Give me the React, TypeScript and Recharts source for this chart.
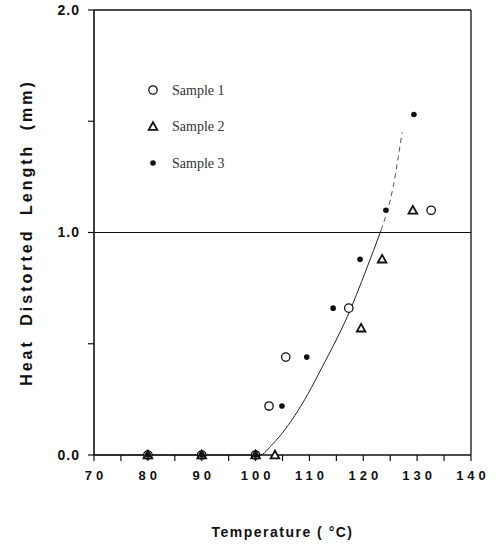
import {
  ComposedChart, Line, Scatter, XAxis, YAxis, ReferenceLine, Legend,
} from "recharts";

// measured points, (temperature °C, heat distorted length mm)
const sample1 = [
  { x: 80, y: 0 }, { x: 90, y: 0 }, { x: 100, y: 0 },
  { x: 102.5, y: 0.22 }, { x: 105.6, y: 0.44 }, { x: 117.3, y: 0.66 }, { x: 132.6, y: 1.1 },
];
const sample2 = [
  { x: 80, y: 0 }, { x: 90, y: 0 }, { x: 100, y: 0 }, { x: 103.6, y: 0 },
  { x: 119.6, y: 0.57 }, { x: 123.5, y: 0.88 }, { x: 129.2, y: 1.1 },
];
const sample3 = [
  { x: 80, y: 0 }, { x: 90, y: 0 }, { x: 100, y: 0 },
  { x: 104.9, y: 0.22 }, { x: 109.5, y: 0.44 }, { x: 114.4, y: 0.66 },
  { x: 119.4, y: 0.88 }, { x: 124.2, y: 1.1 }, { x: 129.4, y: 1.53 },
];

// hand-drawn fit curve
const fitSolid = [
  { x: 70, y: 0 }, { x: 100.8, y: 0 }, { x: 103.2, y: 0.05 }, { x: 107.9, y: 0.2 },
  { x: 112.9, y: 0.42 }, { x: 117, y: 0.62 }, { x: 120.5, y: 0.83 }, { x: 123.3, y: 1.01 },
];
const fitDashed = [
  { x: 123.3, y: 1.01 }, { x: 125.5, y: 1.2 }, { x: 127.2, y: 1.45 },
];

const xTicks = [70, 75, 80, 85, 90, 95, 100, 105, 110, 115, 120, 125, 130, 135, 140];
const yTicks = [0, 0.5, 1, 1.5, 2];
const yLabels: Record<string, string> = { "0": "0.0", "1": "1.0", "2": "2.0" };
const legendNames = ["Sample 1", "Sample 2", "Sample 3"];

const SANS = "'Liberation Sans', Arial, sans-serif";
const SERIF = "'Liberation Serif', 'Times New Roman', serif";

const OpenCircle = ({ cx, cy }: any) => (
  <circle cx={cx} cy={cy} r={4.2} fill="#fff" stroke="#111" strokeWidth={1.3} />
);
const Triangle = ({ cx, cy }: any) => (
  <path d={`M${cx},${cy - 4.3} L${cx + 4.3},${cy + 3.3} L${cx - 4.3},${cy + 3.3} Z`}
    fill="#fff" stroke="#111" strokeWidth={1.8} strokeLinejoin="miter" />
);
const Dot = ({ cx, cy }: any) => <circle cx={cx} cy={cy} r={2.8} fill="#111" />;

function XTick({ x, y, payload }: any) {
  if (payload.value % 10 !== 0) return null;
  return (
    <text x={x + 2} y={y} dy="0.71em" textAnchor="middle" fontFamily={SANS}
      fontWeight="bold" fontSize={13} letterSpacing={4} fill="#111">
      {payload.value}
    </text>
  );
}

function YTick({ x, y, payload }: any) {
  const label = yLabels[String(payload.value)];
  if (!label) return null;
  return (
    <text x={x} y={y} dy="0.355em" textAnchor="end" fontFamily={SANS}
      fontWeight="bold" fontSize={14} letterSpacing={1} fill="#111">
      {label}
    </text>
  );
}

function LegendBox() {
  const icons = [OpenCircle, Triangle, Dot];
  return (
    <svg width={110} height={100}>
      {legendNames.map((name, i) => {
        const Icon = icons[i];
        const cy = 15 + i * 36.5;
        return (
          <g key={name}>
            <Icon cx={13} cy={cy} />
            <text x={32} y={cy} dy="0.35em" fontFamily={SERIF} fontSize={14} fill="#333">{name}</text>
          </g>
        );
      })}
    </svg>
  );
}

export default function App() {
  return (
    <div style={{ position: "absolute", left: 0, top: 0, background: "#fff" }}>
      <ComposedChart width={499} height={545} margin={{ top: 10, right: 28, bottom: 60, left: 0 }}>
        <XAxis dataKey="x" type="number" domain={[70, 140]} ticks={xTicks} interval={0}
          height={30} tickSize={6} tickMargin={10} tick={<XTick />}
          axisLine={{ stroke: "#111", strokeWidth: 1.6 }} tickLine={{ stroke: "#111", strokeWidth: 1.2 }}
          label={{
            content: ({ viewBox }: any) => (
              <text x={viewBox.x + viewBox.width / 2} y={viewBox.y + 77} textAnchor="middle"
                dominantBaseline="central" fontFamily={SANS} fontWeight="bold" fontSize={14}
                letterSpacing={1.5} fill="#111">
                Temperature  ( °C)
              </text>
            ),
          }}
        />
        <YAxis dataKey="y" type="number" domain={[0, 2]} ticks={yTicks} interval={0}
          width={94} tickSize={6} tickMargin={8} tick={<YTick />}
          axisLine={{ stroke: "#111", strokeWidth: 1.6 }} tickLine={{ stroke: "#111", strokeWidth: 1.2 }}
          label={{
            content: ({ viewBox }: any) => {
              const cx = 26;
              const cy = viewBox.y + viewBox.height / 2;
              return (
                <text x={cx} y={cy} transform={`rotate(-90 ${cx} ${cy})`} textAnchor="middle"
                  dominantBaseline="central" fontFamily={SANS} fontWeight="bold" fontSize={16}
                  letterSpacing={3} wordSpacing={6} fill="#111">
                  Heat Distorted Length (mm)
                </text>
              );
            },
          }}
        />
        <ReferenceLine y={2} stroke="#111" strokeWidth={1.4} />
        <ReferenceLine x={140} stroke="#111" strokeWidth={1.3} />
        <ReferenceLine y={1} stroke="#111" strokeWidth={1.2} />
        <Line data={fitSolid} dataKey="y" type="monotone" stroke="#222" strokeWidth={1}
          dot={false} activeDot={false} legendType="none" isAnimationActive={false} />
        <Line data={fitDashed} dataKey="y" type="monotone" stroke="#555" strokeWidth={1}
          strokeDasharray="5 4" dot={false} activeDot={false} legendType="none" isAnimationActive={false} />
        <Scatter name="Sample 1" data={sample1} shape={<OpenCircle />} isAnimationActive={false} />
        <Scatter name="Sample 2" data={sample2} shape={<Triangle />} isAnimationActive={false} />
        <Scatter name="Sample 3" data={sample3} shape={<Dot />} isAnimationActive={false} />
        <Legend layout="vertical" align="center" verticalAlign="middle" content={<LegendBox />}
          wrapperStyle={{ left: 140, top: 75, width: 110, height: 100 }} />
      </ComposedChart>
    </div>
  );
}
